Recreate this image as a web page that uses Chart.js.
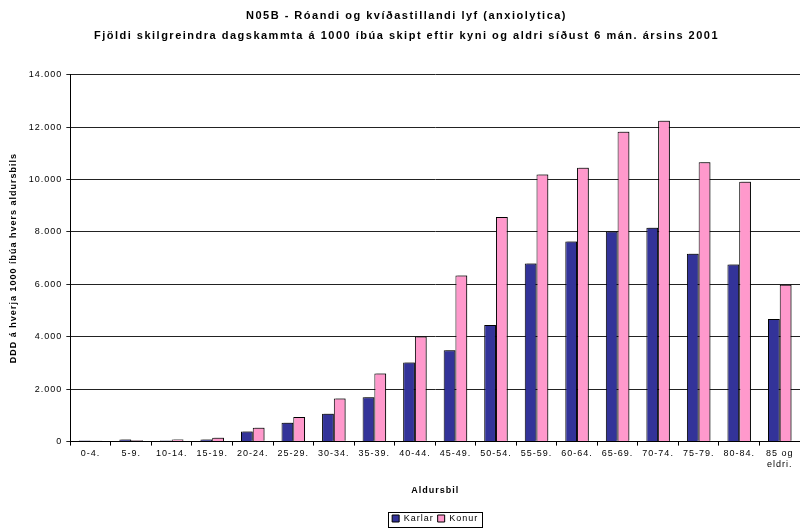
<!DOCTYPE html>
<html>
<head>
<meta charset="utf-8">
<script src="https://cdn.jsdelivr.net/npm/chart.js@4/dist/chart.umd.min.js"></script>
<style>
  html, body { margin: 0; padding: 0; background: #fff; overflow: hidden; }
  #wrap { width: 800px; height: 529px; position: relative; }
</style>
</head>
<body>
<div id="wrap"><canvas id="lyfChart"></canvas></div>
<script>
// N05B - anxiolytica, DDD per 1000 íbúa eftir kyni og aldri (2001)

const ageGroups = ['0-4.', '5-9.', '10-14.', '15-19.', '20-24.', '25-29.', '30-34.', '35-39.',
  '40-44.', '45-49.', '50-54.', '55-59.', '60-64.', '65-69.', '70-74.', '75-79.', '80-84.', ['85 og', 'eldri.']];
const karlar = [40, 80, 40, 80, 390, 720, 1060, 1690, 3020, 3480, 4450, 6790, 7630, 8010, 8160, 7170, 6760, 4680];
const konur = [35, 50, 80, 150, 530, 940, 1640, 2600, 4010, 6340, 8570, 10190, 10450, 11820, 12240, 10660, 9910, 5980];
const yTicks = [0, 2000, 4000, 6000, 8000, 10000, 12000, 14000];

const FONT = "'Liberation Sans', Arial, sans-serif";

// Excel renders its small text a bit spread out
const textSpacing = {
  id: 'textSpacing',
  beforeUpdate(chart) { chart.ctx.letterSpacing = '1px'; },
  beforeDraw(chart) { chart.ctx.letterSpacing = '1px'; }
};

// Excel-style drop shadow on bars
const barShadow = {
  id: 'barShadow',
  beforeDatasetsDraw(chart) {
    const ctx = chart.ctx;
    ctx.save();
    ctx.shadowColor = 'rgba(0,0,0,0.35)';
    ctx.shadowOffsetX = 2;
    ctx.shadowOffsetY = -1;
    ctx.shadowBlur = 0;
  },
  afterDatasetsDraw(chart) {
    chart.ctx.restore();
  }
};

// legend is centred under the plot area, with a frame round it
const legendBox = {
  id: 'legendBox',
  afterLayout(chart) {
    const lg = chart.legend;
    const shift = (chart.chartArea.left + chart.chartArea.right) / 2 - (lg.left + lg.right) / 2;
    lg.left += shift;
    lg.right += shift;
  },
  afterDraw(chart) {
    const lg = chart.legend;
    if (!lg) return;
    const ctx = chart.ctx;
    const w = lg.lineWidths[0] + 4;
    const cx = (lg.left + lg.right) / 2;
    ctx.save();
    ctx.strokeStyle = '#000';
    ctx.lineWidth = 1;
    ctx.strokeRect(Math.round(cx - w / 2) + 0.5, Math.round(lg.top + 2) + 0.5, Math.round(w), Math.round(lg.height - 8));
    ctx.restore();
  }
};

const chart = new Chart(document.getElementById('lyfChart').getContext('2d'), {
  type: 'bar',
  data: {
    labels: ageGroups,
    datasets: [
      {
        label: 'Karlar',
        data: karlar,
        backgroundColor: '#333399',
        borderColor: '#000',
        borderWidth: 1,
        categoryPercentage: 0.58,
        barPercentage: 1.0
      },
      {
        label: 'Konur',
        data: konur,
        backgroundColor: '#FF99CC',
        borderColor: '#000',
        borderWidth: 1,
        categoryPercentage: 0.58,
        barPercentage: 1.0
      }
    ]
  },
  options: {
    responsive: true,
    maintainAspectRatio: false,
    animation: false,
    layout: { padding: { left: 4, right: -9, top: 4, bottom: -4 } },
    plugins: {
      title: {
        display: true,
        text: ['N05B - Róandi og kvíðastillandi lyf (anxiolytica)',
               'Fjöldi skilgreindra dagskammta á 1000 íbúa skipt eftir kyni og aldri síðust 6 mán. ársins 2001'],
        color: '#000',
        font: { family: FONT, size: 11, weight: 'bold', lineHeight: 1.8 },
        padding: { top: 2, bottom: 29 }
      },
      legend: {
        position: 'bottom',
        labels: {
          color: '#000',
          font: { family: FONT, size: 9 },
          boxWidth: 7,
          boxHeight: 7,
          padding: 4
        }
      },
      tooltip: { enabled: false }
    },
    scales: {
      x: {
        grid: { display: true, drawOnChartArea: false, offset: true, color: '#000', tickLength: 4 },
        border: { color: '#000' },
        ticks: { color: '#000', font: { family: FONT, size: 9 }, maxRotation: 0, autoSkip: false, padding: 3 },
        title: { display: true, text: 'Aldursbil', color: '#000', font: { family: FONT, size: 9, weight: 'bold' }, padding: { top: 12, bottom: 14 } }
      },
      y: {
        min: 0,
        max: 14000,
        afterBuildTicks: (axis) => { axis.ticks = yTicks.map(v => ({ value: v })); },
        grid: { color: '#222', tickLength: 4 },
        border: { color: '#000' },
        ticks: {
          color: '#000',
          font: { family: FONT, size: 9 },
          padding: 4,
          callback: (v) => v.toString().replace(/\B(?=(\d{3})+(?!\d))/g, '.')
        },
        title: { display: true, text: 'DDD á hverja 1000 íbúa hvers aldursbils', color: '#000', font: { family: FONT, size: 9, weight: 'bold' }, padding: { bottom: 6 } }
      }
    }
  },
  plugins: [textSpacing, barShadow, legendBox]
});

// title is drawn a little wider still
const titleDraw = chart.titleBlock.draw.bind(chart.titleBlock);
chart.titleBlock.draw = function () {
  const ctx = chart.ctx;
  ctx.save();
  ctx.letterSpacing = '1.5px';
  titleDraw();
  ctx.restore();
};
chart.draw();
</script>
</body>
</html>
